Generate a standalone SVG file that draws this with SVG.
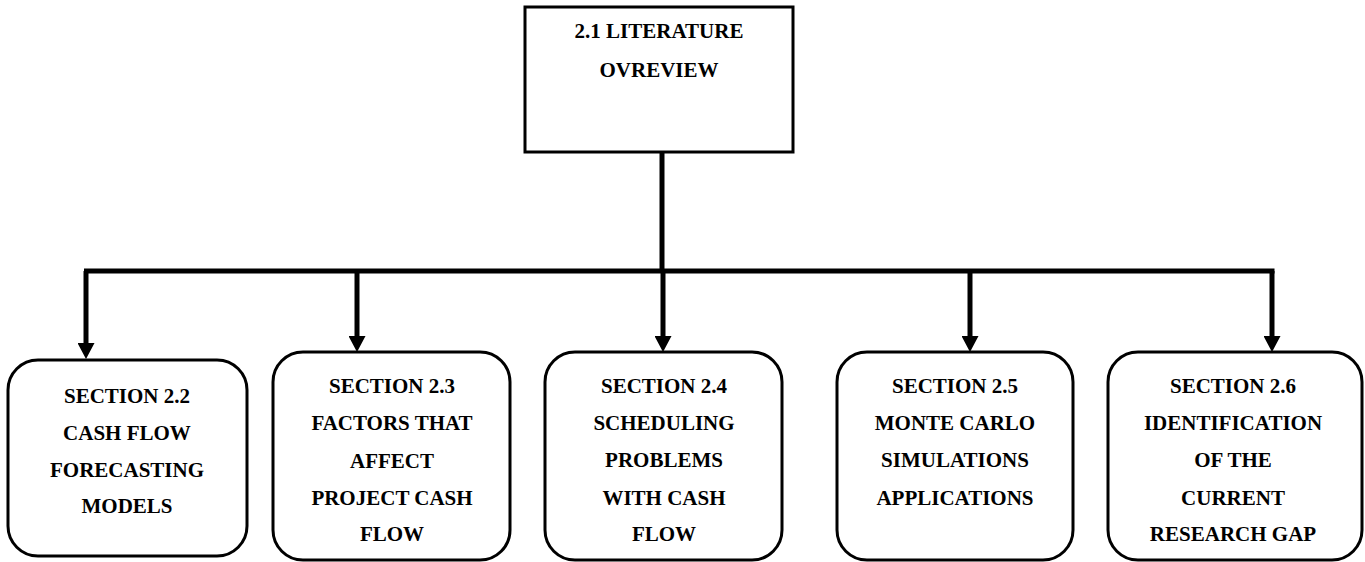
<svg xmlns="http://www.w3.org/2000/svg" width="1365" height="562" viewBox="0 0 1365 562">
<defs>
<style>
.box{fill:#fff;stroke:#000;stroke-width:3}
.t{font-family:'Liberation Serif','Tinos','Times New Roman',serif;font-weight:700;font-size:21px;fill:#000;text-anchor:middle}
.conn{fill:none;stroke:#000;stroke-width:5}
</style>
<marker id="ah" viewBox="0 0 16 17" refX="0" refY="8.5" markerWidth="16" markerHeight="17" markerUnits="userSpaceOnUse" orient="auto">
<path d="M0,0 L16,8.5 L0,17 z" fill="#000"/>
</marker>
</defs>
<rect width="1365" height="562" fill="#fff"/>
<g id="connectors">
<path class="conn" d="M662,152 V271"/>
<path class="conn" d="M84,271 H1274.5"/>
<path class="conn" d="M86,271 V343" marker-end="url(#ah)"/>
<path class="conn" d="M357,271 V336" marker-end="url(#ah)"/>
<path class="conn" d="M663,271 V336" marker-end="url(#ah)"/>
<path class="conn" d="M970,271 V336" marker-end="url(#ah)"/>
<path class="conn" d="M1272,271 V336" marker-end="url(#ah)"/>
</g>
<g id="n21">
<rect class="box" x="525" y="7" width="268" height="145"/>
<text class="t" x="659" y="38">2.1 LITERATURE</text>
<text class="t" x="659" y="77">OVREVIEW</text>
</g>
<g id="n22">
<rect class="box" x="8" y="360" width="239" height="196" rx="30" ry="30"/>
<text class="t" x="127" y="403">SECTION 2.2</text>
<text class="t" x="127" y="440">CASH FLOW</text>
<text class="t" x="127" y="477">FORECASTING</text>
<text class="t" x="127" y="513">MODELS</text>
</g>
<g id="n23">
<rect class="box" x="273" y="352" width="237" height="208" rx="30" ry="30"/>
<text class="t" x="392" y="393">SECTION 2.3</text>
<text class="t" x="392" y="430">FACTORS THAT</text>
<text class="t" x="392" y="468">AFFECT</text>
<text class="t" x="392" y="505">PROJECT CASH</text>
<text class="t" x="392" y="541">FLOW</text>
</g>
<g id="n24">
<rect class="box" x="545" y="352" width="237" height="208" rx="30" ry="30"/>
<text class="t" x="664" y="393">SECTION 2.4</text>
<text class="t" x="664" y="430">SCHEDULING</text>
<text class="t" x="664" y="467">PROBLEMS</text>
<text class="t" x="664" y="505">WITH CASH</text>
<text class="t" x="664" y="541">FLOW</text>
</g>
<g id="n25">
<rect class="box" x="837" y="352" width="236" height="208" rx="30" ry="30"/>
<text class="t" x="955" y="393">SECTION 2.5</text>
<text class="t" x="955" y="430">MONTE CARLO</text>
<text class="t" x="955" y="467">SIMULATIONS</text>
<text class="t" x="955" y="505">APPLICATIONS</text>
</g>
<g id="n26">
<rect class="box" x="1108" y="352" width="254" height="208" rx="30" ry="30"/>
<text class="t" x="1233" y="393">SECTION 2.6</text>
<text class="t" x="1233" y="430">IDENTIFICATION</text>
<text class="t" x="1233" y="467">OF THE</text>
<text class="t" x="1233" y="505">CURRENT</text>
<text class="t" x="1233" y="541">RESEARCH GAP</text>
</g>
</svg>
